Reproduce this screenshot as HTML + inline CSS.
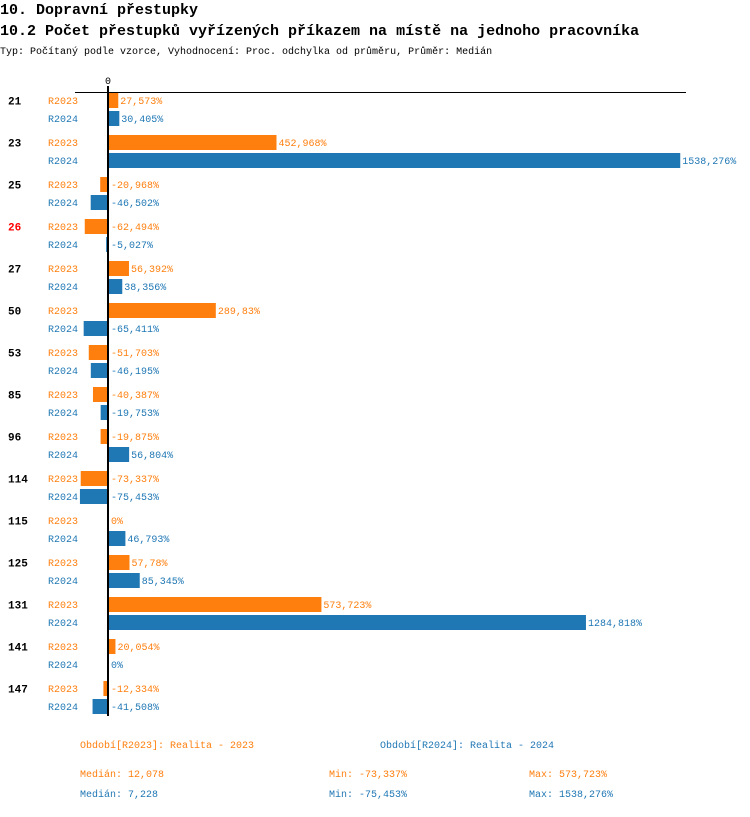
<!DOCTYPE html>
<html><head><meta charset="utf-8"><style>
body{margin:0;background:#fff;width:750px;height:812px;overflow:hidden;font-family:"Liberation Mono",monospace}
</style></head><body>
<svg width="750" height="812" xmlns="http://www.w3.org/2000/svg" font-family="Liberation Mono, monospace">
<text x="0" y="14" font-size="15" font-weight="bold">10. Dopravní přestupky</text>
<text x="0" y="35" font-size="15" font-weight="bold">10.2 Počet přestupků vyřízených příkazem na místě na jednoho pracovníka</text>
<text x="0" y="54" font-size="10">Typ: Počítaný podle vzorce, Vyhodnocení: Proc. odchylka od průměru, Průměr: Medián</text>
<text x="108" y="84" font-size="10" text-anchor="middle">0</text>
<line x1="75" y1="92.5" x2="686" y2="92.5" stroke="#000" stroke-width="1"/>
<g id="bars"></g>
<line x1="108" y1="86" x2="108" y2="716" stroke="#000" stroke-width="2"/>
<text x="80" y="748" font-size="10" fill="#ff7f0e">Období[R2023]: Realita - 2023</text>
<text x="380" y="748" font-size="10" fill="#1f77b4">Období[R2024]: Realita - 2024</text>
<text x="80" y="777" font-size="10" fill="#ff7f0e">Medián: 12,078</text>
<text x="329" y="777" font-size="10" fill="#ff7f0e">Min: -73,337%</text>
<text x="529" y="777" font-size="10" fill="#ff7f0e">Max: 573,723%</text>
<text x="80" y="797" font-size="10" fill="#1f77b4">Medián: 7,228</text>
<text x="329" y="797" font-size="10" fill="#1f77b4">Min: -75,453%</text>
<text x="529" y="797" font-size="10" fill="#1f77b4">Max: 1538,276%</text>
</svg>
<script>
const categories=["21","23","25","26","27","50","53","85","96","114","115","125","131","141","147"];
const highlighted=["26"];
const r2023=[27.573,452.968,-20.968,-62.494,56.392,289.83,-51.703,-40.387,-19.875,-73.337,0,57.78,573.723,20.054,-12.334];
const r2024=[30.405,1538.276,-46.502,-5.027,38.356,-65.411,-46.195,-19.753,56.804,-75.453,46.793,85.345,1284.818,0,-41.508];
const NS="http://www.w3.org/2000/svg";
const g=document.getElementById('bars');
const x=v=>108+v*0.372;
const yc=i=>100.5+42*i;
function mk(tag,a){const e=document.createElementNS(NS,tag);for(const k in a)e.setAttribute(k,a[k]);g.appendChild(e);return e;}
function fmt(v){return String(v).replace('.',',')+'%';}
categories.forEach((c,i)=>{
  const t=mk('text',{x:8,y:yc(i)+4,'font-size':11,'font-weight':'bold',fill:highlighted.includes(c)?'#ff0000':'#000'});
  t.textContent=c;
  
  
  [[r2023,'#ff7f0e','R2023',0],[r2024,'#1f77b4','R2024',18]].forEach(([arr,col,lab,off])=>{
    const y=yc(i)+off, v=arr[i];
    const l=mk('text',{x:48,y:y+3.5,'font-size':10,fill:col});
    l.textContent=lab;
    
    
    const x0=Math.min(x(0),x(v)), w=Math.abs(x(v)-x(0));
    const r=mk('rect',{x:x0,y:y-7.5,width:w,height:15,fill:col});
    
    
    const vx=v>0?x(v)+2:111;
    const vt=mk('text',{x:vx,y:y+3.5,'font-size':10,fill:col});
    vt.textContent=fmt(v);
    
    
  });
});
</script>
</body></html>
